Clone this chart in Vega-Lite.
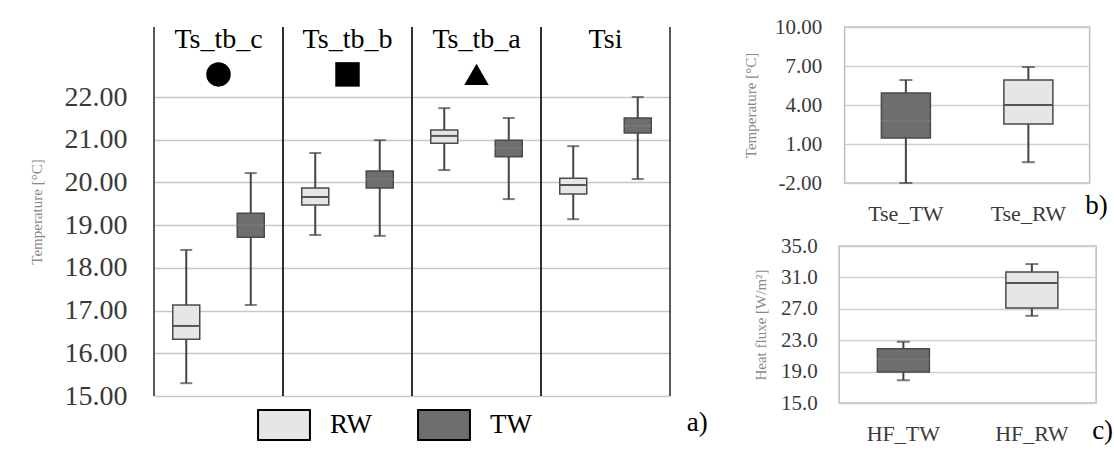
{
  "$schema": "https://vega.github.io/schema/vega-lite/v6.json",
  "background": "white",
  "padding": {"left": 29, "top": 15, "right": 0, "bottom": 0},
  "config": {"font": "Liberation Serif", "view": {"stroke": null}},
  "datasets": {
    "groups": [
      {"group": "Ts_tb_c", "marker": "circle"},
      {"group": "Ts_tb_b", "marker": "square"},
      {"group": "Ts_tb_a", "marker": "triangle-up"},
      {"group": "Tsi", "marker": null}
    ],
    "boxes": [
      {"group": "Ts_tb_c", "series": "RW", "min": 15.30, "q1": 16.33, "median": 16.64, "q3": 17.13, "max": 18.42},
      {"group": "Ts_tb_c", "series": "TW", "min": 17.13, "q1": 18.72, "median": 19.0, "q3": 19.28, "max": 20.22},
      {"group": "Ts_tb_b", "series": "RW", "min": 18.77, "q1": 19.47, "median": 19.66, "q3": 19.87, "max": 20.69},
      {"group": "Ts_tb_b", "series": "TW", "min": 18.75, "q1": 19.87, "median": 20.07, "q3": 20.27, "max": 20.99},
      {"group": "Ts_tb_a", "series": "RW", "min": 20.29, "q1": 20.92, "median": 21.09, "q3": 21.23, "max": 21.74},
      {"group": "Ts_tb_a", "series": "TW", "min": 19.61, "q1": 20.6, "median": 20.8, "q3": 20.99, "max": 21.51},
      {"group": "Tsi", "series": "RW", "min": 19.14, "q1": 19.73, "median": 19.94, "q3": 20.1, "max": 20.85},
      {"group": "Tsi", "series": "TW", "min": 20.08, "q1": 21.16, "median": 21.33, "q3": 21.51, "max": 22.0}
    ],
    "tse": [
      {"var": "Tse_TW", "series": "TW", "min": -2.0, "q1": 1.46, "median": 2.77, "q3": 4.92, "max": 5.92},
      {"var": "Tse_RW", "series": "RW", "min": -0.4, "q1": 2.54, "median": 4.0, "q3": 5.92, "max": 6.92}
    ],
    "hf": [
      {"var": "HF_TW", "series": "TW", "min": 17.9, "q1": 18.95, "median": 20.5, "q3": 21.9, "max": 22.8},
      {"var": "HF_RW", "series": "RW", "min": 26.1, "q1": 27.1, "median": 30.3, "q3": 31.7, "max": 32.7}
    ]
  },
  "spacing": 34,
  "resolve": {"scale": {"fill": "independent", "color": "independent", "shape": "independent"}, "legend": {"fill": "independent"}},
  "hconcat": [
    {
      "width": 516,
      "height": 369,
      "view": {"stroke": null},
      "title": {"text": "a)", "orient": "bottom", "anchor": "end", "fontSize": 27, "font": "Liberation Serif", "fontWeight": "normal", "color": "black", "dx": 37, "dy": -38},
      "layer": [
        {
          "data": {"name": "groups"},
          "mark": {"type": "rule", "color": "#222222", "strokeWidth": 1.5},
          "encoding": {
            "x": {"field": "group", "type": "nominal", "sort": ["Ts_tb_c", "Ts_tb_b", "Ts_tb_a", "Tsi"], "bandPosition": 0, "scale": {"paddingInner": 0, "paddingOuter": 0}, "axis": null}
          }
        },
        {
          "data": {"name": "groups"},
          "mark": {"type": "rule", "color": "#222222", "strokeWidth": 1.5},
          "encoding": {
            "x": {"field": "group", "type": "nominal", "sort": ["Ts_tb_c", "Ts_tb_b", "Ts_tb_a", "Tsi"], "bandPosition": 1, "axis": null}
          }
        },
        {
          "data": {"name": "groups"},
          "mark": {"type": "text", "fontSize": 28, "font": "Liberation Serif", "color": "black"},
          "encoding": {
            "x": {"field": "group", "type": "nominal", "sort": ["Ts_tb_c", "Ts_tb_b", "Ts_tb_a", "Tsi"], "axis": null},
            "y": {"datum": 23.33},
            "text": {"field": "group"}
          }
        },
        {
          "data": {"name": "groups"},
          "transform": [{"filter": "isValid(datum.marker)"}],
          "mark": {"type": "point", "filled": true, "color": "black", "opacity": 1, "size": 600},
          "encoding": {
            "x": {"field": "group", "type": "nominal", "sort": ["Ts_tb_c", "Ts_tb_b", "Ts_tb_a", "Tsi"], "axis": null},
            "y": {"datum": 22.53},
            "shape": {"field": "marker", "type": "nominal", "scale": {"domain": ["circle", "square", "triangle-up"], "range": ["circle", "square", "triangle-up"]}, "legend": null}
          }
        },
        {
          "data": {"name": "boxes"},
          "mark": {"type": "rule", "color": "#444444", "strokeWidth": 2},
          "encoding": {
            "x": {"field": "group", "type": "nominal", "sort": ["Ts_tb_c", "Ts_tb_b", "Ts_tb_a", "Tsi"], "axis": null},
            "xOffset": {"field": "series", "type": "nominal", "scale": {"domain": ["RW", "TW"], "paddingInner": 0, "paddingOuter": 0}},
            "y": {"field": "min", "type": "quantitative", "scale": {"domain": [15, 23.64], "nice": false, "zero": false},
              "axis": {"values": [15, 16, 17, 18, 19, 20, 21, 22], "tickCount": 20, "format": ".2f", "grid": true, "gridColor": "#c8c8c8", "gridWidth": 1.5, "domain": false, "ticks": false, "labelOverlap": false,
                "labelFontSize": 28, "labelFont": "Liberation Serif", "labelColor": "#3a3a3a", "labelPadding": 27,
                "title": "Temperature [°C]", "titleFontSize": 15, "titleFont": "Liberation Serif", "titleFontWeight": "normal", "titleColor": "#8a8a8a", "titlePadding": 20}},
            "y2": {"field": "max"}
          }
        },
        {
          "data": {"name": "boxes"},
          "mark": {"type": "tick", "color": "#444444", "thickness": 2, "size": 12, "orient": "horizontal"},
          "encoding": {
            "x": {"field": "group", "type": "nominal", "sort": ["Ts_tb_c", "Ts_tb_b", "Ts_tb_a", "Tsi"], "axis": null},
            "xOffset": {"field": "series", "type": "nominal"},
            "y": {"field": "min", "type": "quantitative"}
          }
        },
        {
          "data": {"name": "boxes"},
          "mark": {"type": "tick", "color": "#444444", "thickness": 2, "size": 12, "orient": "horizontal"},
          "encoding": {
            "x": {"field": "group", "type": "nominal", "sort": ["Ts_tb_c", "Ts_tb_b", "Ts_tb_a", "Tsi"], "axis": null},
            "xOffset": {"field": "series", "type": "nominal"},
            "y": {"field": "max", "type": "quantitative"}
          }
        },
        {
          "data": {"name": "boxes"},
          "mark": {"type": "bar", "width": 27, "stroke": "#4a4a4a", "strokeWidth": 1.5},
          "encoding": {
            "x": {"field": "group", "type": "nominal", "sort": ["Ts_tb_c", "Ts_tb_b", "Ts_tb_a", "Tsi"], "axis": null},
            "xOffset": {"field": "series", "type": "nominal"},
            "y": {"field": "q1", "type": "quantitative"},
            "y2": {"field": "q3"},
            "fill": {"field": "series", "type": "nominal", "scale": {"domain": ["RW", "TW"], "range": ["#e6e6e6", "#6e6e6e"]},
              "legend": {"orient": "none", "legendX": 114, "legendY": 382, "direction": "horizontal", "title": null,
                "symbolType": "M-1.73,-1L1.73,-1L1.73,1L-1.73,1Z", "symbolSize": 900, "symbolStrokeColor": "black", "symbolStrokeWidth": 2, "symbolOpacity": 1,
                "labelFontSize": 27, "labelFont": "Liberation Serif", "labelColor": "black", "labelOffset": 30, "columnPadding": 41,
                "encode": {"symbols": {"update": {"stroke": {"value": "black"}, "strokeWidth": {"value": 2}}}}}}
          }
        },
        {
          "data": {"name": "boxes"},
          "mark": {"type": "tick", "thickness": 2, "size": 27, "orient": "horizontal", "opacity": 1},
          "encoding": {
            "x": {"field": "group", "type": "nominal", "sort": ["Ts_tb_c", "Ts_tb_b", "Ts_tb_a", "Tsi"], "axis": null},
            "xOffset": {"field": "series", "type": "nominal"},
            "y": {"field": "median", "type": "quantitative"},
            "color": {"field": "series", "type": "nominal", "scale": {"domain": ["RW", "TW"], "range": ["#555555", "#767676"]}, "legend": null}
          }
        }
      ]
    },
    {
      "spacing": 9,
      "center": true,
      "resolve": {"scale": {"fill": "independent", "color": "independent"}, "legend": {"fill": "independent"}},
      "vconcat": [
        {
          "width": 245,
          "height": 156,
          "data": {"name": "tse"},
          "view": {"stroke": "#bdbdbd", "strokeWidth": 1.5},
          "title": {"text": "b)", "orient": "bottom", "anchor": "end", "fontSize": 27, "font": "Liberation Serif", "fontWeight": "normal", "color": "black", "dx": 18, "dy": -35},
          "encoding": {
            "x": {"field": "var", "type": "nominal", "sort": ["Tse_TW", "Tse_RW"], "scale": {"paddingInner": 0, "paddingOuter": 0},
              "axis": {"title": null, "labelAngle": 0, "labelFontSize": 22, "labelFont": "Liberation Serif", "labelColor": "#3a3a3a", "labelPadding": 20, "ticks": false, "domain": false, "grid": false}}
          },
          "layer": [
            {
              "mark": {"type": "rule", "color": "#444444", "strokeWidth": 2},
              "encoding": {
                "y": {"field": "min", "type": "quantitative", "scale": {"domain": [-2, 10], "nice": false, "zero": false},
                  "axis": {"values": [-2, 1, 4, 7, 10], "tickCount": 20, "format": ".2f", "labelExpr": "replace(datum.label, '−', '-')", "grid": true, "gridColor": "#cfcfcf", "gridWidth": 1.5, "domain": false, "ticks": false, "labelOverlap": false,
                    "labelFontSize": 21, "labelFont": "Liberation Serif", "labelColor": "#3a3a3a", "labelPadding": 23,
                    "title": "Temperature [°C]", "titleFontSize": 15, "titleFont": "Liberation Serif", "titleFontWeight": "normal", "titleColor": "#8a8a8a", "titlePadding": 16}},
                "y2": {"field": "max"}
              }
            },
            {
              "mark": {"type": "tick", "color": "#444444", "thickness": 2, "size": 13, "orient": "horizontal"},
              "encoding": {"y": {"field": "min", "type": "quantitative"}}
            },
            {
              "mark": {"type": "tick", "color": "#444444", "thickness": 2, "size": 13, "orient": "horizontal"},
              "encoding": {"y": {"field": "max", "type": "quantitative"}}
            },
            {
              "mark": {"type": "bar", "width": 49, "stroke": "#4a4a4a", "strokeWidth": 1.5},
              "encoding": {
                "y": {"field": "q1", "type": "quantitative"},
                "y2": {"field": "q3"},
                "fill": {"field": "series", "type": "nominal", "scale": {"domain": ["RW", "TW"], "range": ["#e6e6e6", "#6e6e6e"]}, "legend": null}
              }
            },
            {
              "mark": {"type": "tick", "thickness": 2, "size": 49, "orient": "horizontal", "opacity": 1},
              "encoding": {
                "y": {"field": "median", "type": "quantitative"},
                "color": {"field": "series", "type": "nominal", "scale": {"domain": ["RW", "TW"], "range": ["#555555", "#767676"]}, "legend": null}
              }
            }
          ]
        },
        {
          "width": 257,
          "height": 157,
          "data": {"name": "hf"},
          "view": {"stroke": "#bdbdbd", "strokeWidth": 1.5},
          "title": {"text": "c)", "orient": "bottom", "anchor": "end", "fontSize": 27, "font": "Liberation Serif", "fontWeight": "normal", "color": "black", "dx": 17, "dy": -30},
          "encoding": {
            "x": {"field": "var", "type": "nominal", "sort": ["HF_TW", "HF_RW"], "scale": {"paddingInner": 0, "paddingOuter": 0},
              "axis": {"title": null, "labelAngle": 0, "labelFontSize": 22, "labelFont": "Liberation Serif", "labelColor": "#3a3a3a", "labelPadding": 20, "ticks": false, "domain": false, "grid": false}}
          },
          "layer": [
            {
              "mark": {"type": "rule", "color": "#444444", "strokeWidth": 2},
              "encoding": {
                "y": {"field": "min", "type": "quantitative", "scale": {"domain": [15, 35], "nice": false, "zero": false},
                  "axis": {"values": [15, 19, 23, 27, 31, 35], "tickCount": 20, "format": ".1f", "grid": true, "gridColor": "#cfcfcf", "gridWidth": 1.5, "domain": false, "ticks": false, "labelOverlap": false,
                    "labelFontSize": 21, "labelFont": "Liberation Serif", "labelColor": "#3a3a3a", "labelPadding": 22,
                    "title": "Heat fluxe [W/m²]", "titleFontSize": 15, "titleFont": "Liberation Serif", "titleFontWeight": "normal", "titleColor": "#8a8a8a", "titlePadding": 12}},
                "y2": {"field": "max"}
              }
            },
            {
              "mark": {"type": "tick", "color": "#444444", "thickness": 2, "size": 13, "orient": "horizontal"},
              "encoding": {"y": {"field": "min", "type": "quantitative"}}
            },
            {
              "mark": {"type": "tick", "color": "#444444", "thickness": 2, "size": 13, "orient": "horizontal"},
              "encoding": {"y": {"field": "max", "type": "quantitative"}}
            },
            {
              "mark": {"type": "bar", "width": 52, "stroke": "#4a4a4a", "strokeWidth": 1.5},
              "encoding": {
                "y": {"field": "q1", "type": "quantitative"},
                "y2": {"field": "q3"},
                "fill": {"field": "series", "type": "nominal", "scale": {"domain": ["RW", "TW"], "range": ["#e6e6e6", "#6e6e6e"]}, "legend": null}
              }
            },
            {
              "mark": {"type": "tick", "thickness": 2, "size": 52, "orient": "horizontal", "opacity": 1},
              "encoding": {
                "y": {"field": "median", "type": "quantitative"},
                "color": {"field": "series", "type": "nominal", "scale": {"domain": ["RW", "TW"], "range": ["#555555", "#767676"]}, "legend": null}
              }
            }
          ]
        }
      ]
    }
  ]
}
